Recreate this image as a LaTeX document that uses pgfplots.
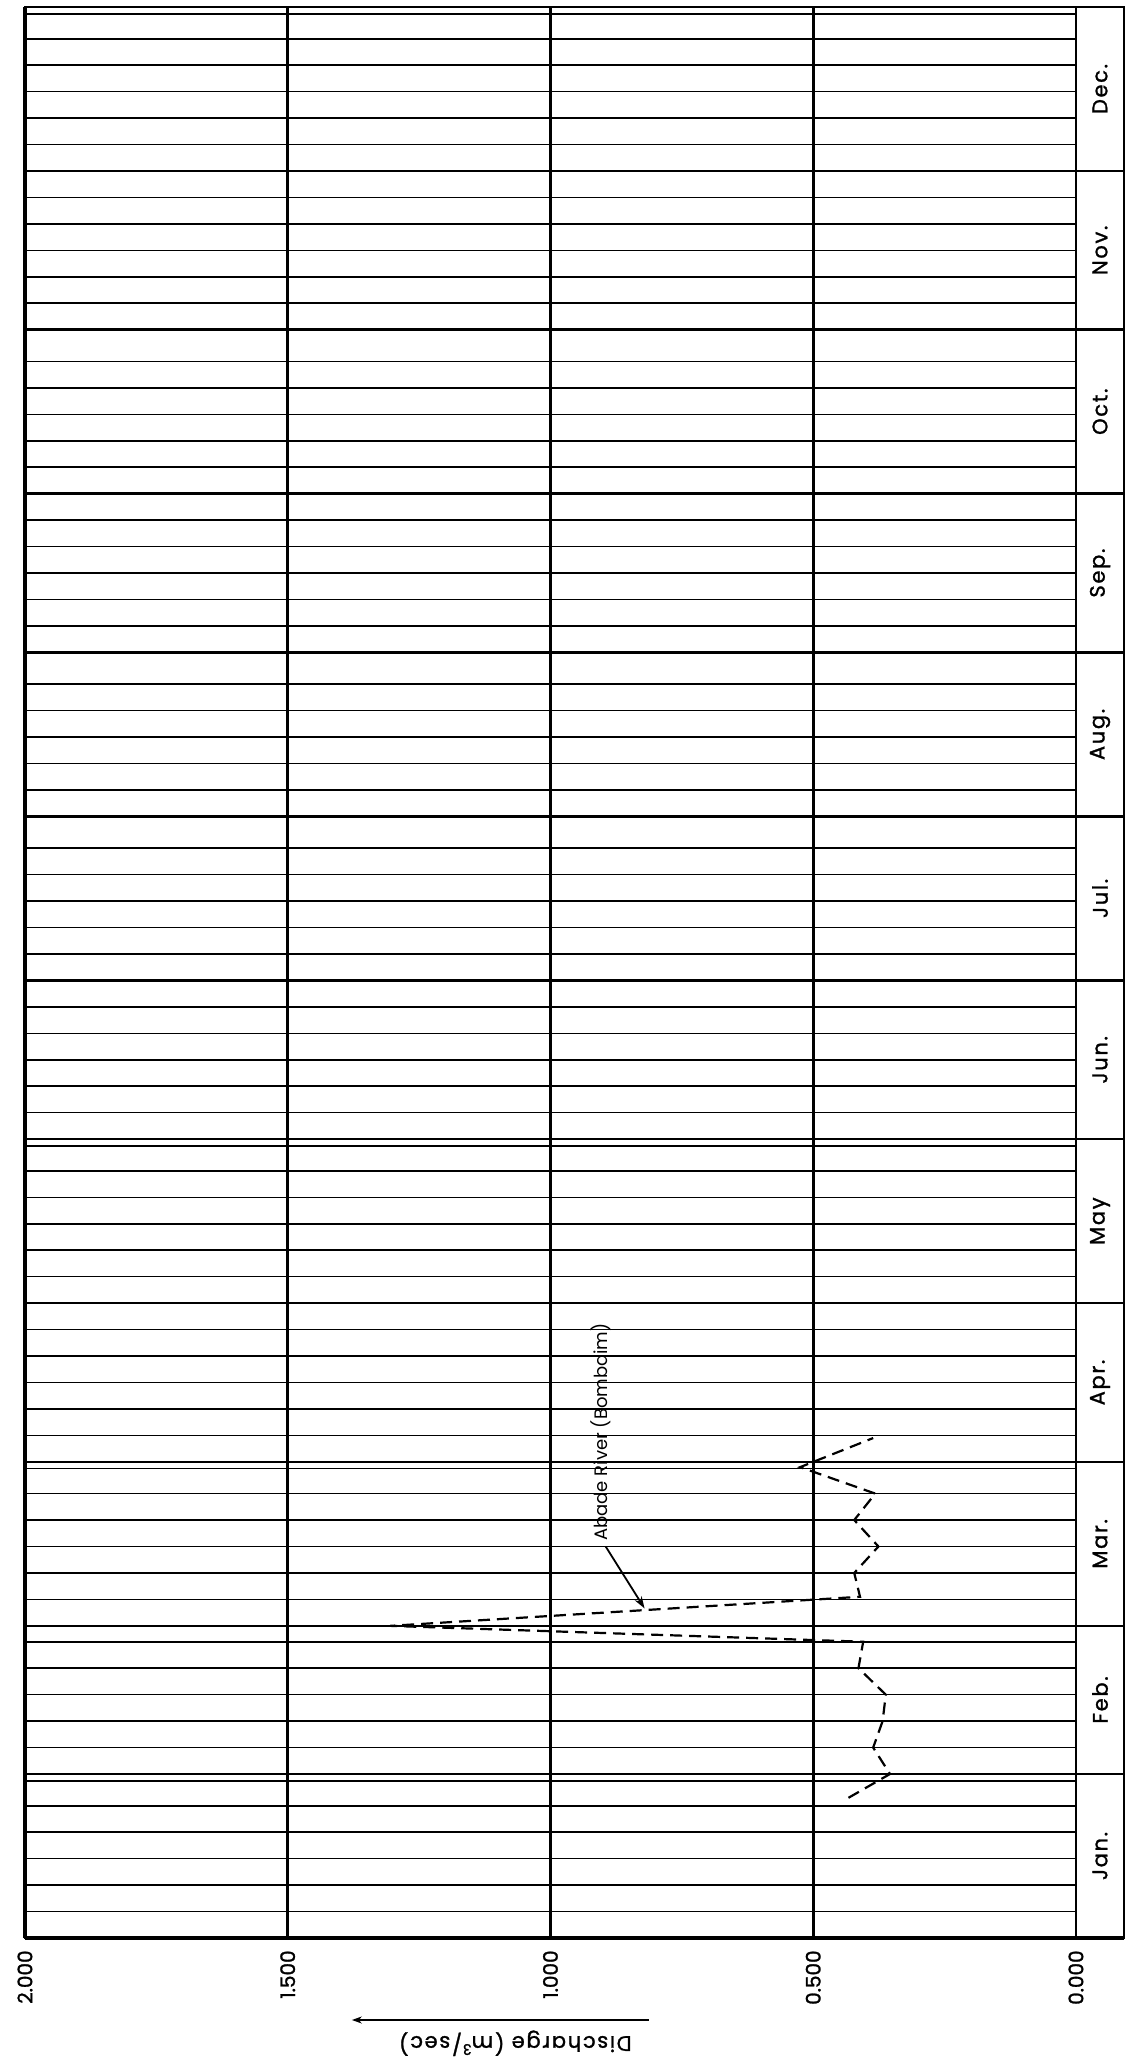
\documentclass[border=0pt]{standalone}
\usepackage{fontspec}
\setmainfont{Poppins}
\newfontfamily\labelfont[FakeBold=1.3]{Poppins}
\newfontfamily\spaced[LetterSpace=8,FakeBold=1.3]{Poppins}
\usepackage{pgfplots}
\pgfplotsset{compat=1.18}
\usetikzlibrary{arrows.meta}
\begin{document}
\begin{tikzpicture}
\begin{axis}[
  at={(0,0)}, anchor=south west,
  scale only axis, width=549.5pt, height=965.5pt,
  x dir=reverse,
  xmin=-0.0913, xmax=2.0,
  ymin=0, ymax=365,
  xtick={0,0.5,1,1.5,2},
  xticklabels={0.000,0.500,1.000,1.500,2.000},
  ytick=\empty,
  major tick length=0pt,
  xmajorgrids,
  major grid style={line width=1.4pt, black},
  axis line style={line width=1pt, black},
  xticklabel style={rotate=90, anchor=east, font=\labelfont\fontsize{10}{12}\selectfont, inner sep=0pt},
  xticklabel shift=6pt,
  clip=false,
]
% pentad lines
\pgfplotsinvokeforeach{5,10,15,20,25,36,41,46,51,56,64,69,74,79,84,95,100,105,110,115,125,130,135,140,145,156,161,166,171,176,186,191,196,201,206,217,222,227,232,237,248,253,258,263,268,278,283,288,293,298,309,314,319,324,329,339,344,349,354,359}{
  \draw[line width=0.8pt, black] (axis cs:0,#1) -- (axis cs:2,#1);
}
% companion lines near some month boundaries
\pgfplotsinvokeforeach{29.7,88.7,149.7,363.7}{
  \draw[line width=0.7pt, black] (axis cs:0,#1) -- (axis cs:2,#1);
}
% month boundaries
\pgfplotsinvokeforeach{31,59,90,120,151,181,212,243,273,304,334}{
  \draw[line width=1.2pt, black] (axis cs:-0.0913,#1) -- (axis cs:2,#1);
}
% heavier left and bottom frame
\draw[line width=2pt, black] (axis cs:2,0) -- (axis cs:2,365);
\draw[line width=1.6pt, black] (axis cs:-0.0913,0) -- (axis cs:2,0);

% Abade River (Bombaim) discharge
\addplot[black, line width=1.1pt, dash pattern=on 6pt off 3.5pt] coordinates {
  (0.433,26.5) (0.354,31) (0.386,36) (0.368,41) (0.362,46) (0.414,51) (0.405,56)
  (1.305,59) (0.411,64.5) (0.422,69) (0.376,74) (0.422,79) (0.382,84) (0.525,89) (0.386,94.5)
};

\node[rotate=90, anchor=west, font=\fontsize{9}{11}\selectfont, inner sep=0pt] at (axis cs:0.905,75) {Abade River (Bombaim)};
\draw[line width=0.9pt, -{Stealth[length=6pt,width=4pt]}] (axis cs:0.895,74) -- (axis cs:0.821,62.3);

% month labels
\node[rotate=90, font=\spaced\fontsize{10.5}{12}\selectfont] at (axis cs:-0.0457,15.5) {Jan.};
\node[rotate=90, font=\spaced\fontsize{10.5}{12}\selectfont] at (axis cs:-0.0457,45) {Feb.};
\node[rotate=90, font=\spaced\fontsize{10.5}{12}\selectfont] at (axis cs:-0.0457,74.5) {Mar.};
\node[rotate=90, font=\spaced\fontsize{10.5}{12}\selectfont] at (axis cs:-0.0457,105) {Apr.};
\node[rotate=90, font=\spaced\fontsize{10.5}{12}\selectfont] at (axis cs:-0.0457,135.5) {May};
\node[rotate=90, font=\spaced\fontsize{10.5}{12}\selectfont] at (axis cs:-0.0457,166) {Jun.};
\node[rotate=90, font=\spaced\fontsize{10.5}{12}\selectfont] at (axis cs:-0.0457,196.5) {Jul.};
\node[rotate=90, font=\spaced\fontsize{10.5}{12}\selectfont] at (axis cs:-0.0457,227.5) {Aug.};
\node[rotate=90, font=\spaced\fontsize{10.5}{12}\selectfont] at (axis cs:-0.0457,258) {Sep.};
\node[rotate=90, font=\spaced\fontsize{10.5}{12}\selectfont] at (axis cs:-0.0457,288.5) {Oct.};
\node[rotate=90, font=\spaced\fontsize{10.5}{12}\selectfont] at (axis cs:-0.0457,319) {Nov.};
\node[rotate=90, font=\spaced\fontsize{10.5}{12}\selectfont] at (axis cs:-0.0457,349.5) {Dec.};

% axis label (upside down, as in the rotated original)
\draw[line width=0.8pt, -{Stealth[length=5pt,width=3.5pt]}] (axis cs:0.813,-15.5) -- (axis cs:1.378,-15.5);
\node[rotate=180, font=\spaced\fontsize{10.5}{12}\selectfont] at (axis cs:1.067,-19.9) {Discharge (m\textsuperscript{3}/sec)};
\end{axis}
\pgfresetboundingbox
\path[use as bounding box] (-12.5pt,-61pt) rectangle (552pt,969pt);
\end{tikzpicture}
\end{document}
